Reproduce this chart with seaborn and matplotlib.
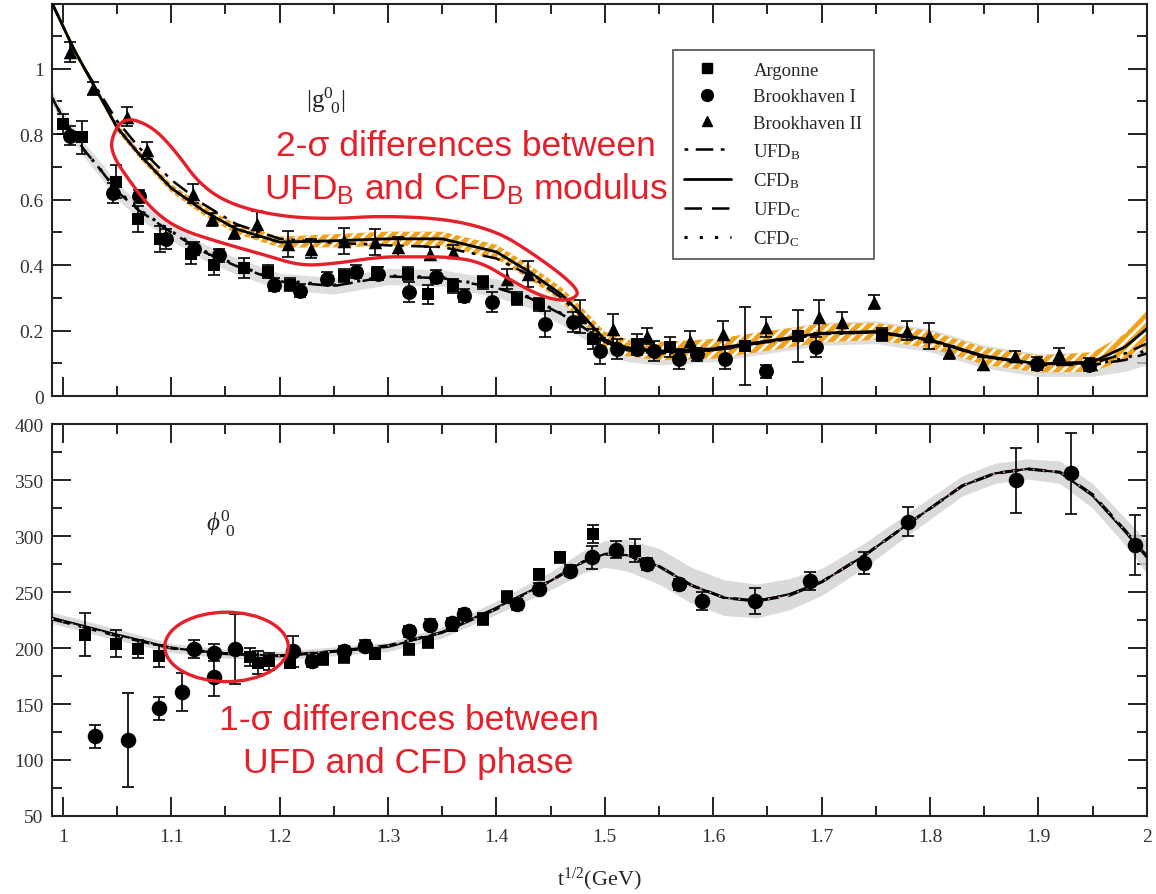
import matplotlib
matplotlib.use("Agg")
import numpy as np
import matplotlib.pyplot as plt
import seaborn as sns
from matplotlib.lines import Line2D
from matplotlib.patches import Ellipse, Polygon
from matplotlib.ticker import MultipleLocator, FuncFormatter

# ---------- top panel: modulus |g00| ----------
# curves
x_curve_top = [0.99, 1.0, 1.01, 1.02, 1.035, 1.05, 1.07, 1.1, 1.13, 1.16, 1.2, 1.25, 1.3, 1.35,
               1.4, 1.43, 1.46, 1.48, 1.5, 1.52, 1.55, 1.6, 1.65, 1.7, 1.75, 1.8, 1.85, 1.9,
               1.95, 1.98, 2.0]
cfd_b = [1.2, 1.13, 1.06, 1.0, 0.91, 0.82, 0.74, 0.635, 0.565, 0.51, 0.47, 0.474, 0.48, 0.48,
         0.44, 0.38, 0.31, 0.245, 0.172, 0.148, 0.137, 0.144, 0.168, 0.192, 0.197, 0.172, 0.122,
         0.098, 0.104, 0.15, 0.205]
ufd_b = [1.2, 1.13, 1.06, 1.0, 0.92, 0.84, 0.76, 0.66, 0.585, 0.525, 0.48, 0.468, 0.46, 0.455,
         0.42, 0.37, 0.30, 0.24, 0.17, 0.145, 0.135, 0.142, 0.165, 0.19, 0.195, 0.17, 0.12,
         0.097, 0.1, 0.13, 0.16]
ufd_c = [0.91, 0.85, 0.80, 0.75, 0.69, 0.625, 0.567, 0.50, 0.44, 0.397, 0.35, 0.336, 0.365, 0.36,
         0.33, 0.30, 0.25, 0.21, 0.165, 0.14, 0.13, 0.14, 0.165, 0.19, 0.195, 0.17, 0.12,
         0.095, 0.095, 0.11, 0.13]
cfd_c = [0.91, 0.85, 0.80, 0.75, 0.69, 0.628, 0.57, 0.503, 0.443, 0.40, 0.353, 0.338, 0.367, 0.362,
         0.332, 0.302, 0.252, 0.21, 0.165, 0.14, 0.13, 0.14, 0.165, 0.19, 0.195, 0.17, 0.12,
         0.095, 0.097, 0.115, 0.14]
band_b_half = [0.01, 0.01, 0.01, 0.01, 0.01, 0.012, 0.012, 0.013, 0.014, 0.015, 0.017, 0.02, 0.022,
               0.022, 0.022, 0.022, 0.022, 0.022, 0.024, 0.026, 0.028, 0.03, 0.03, 0.028, 0.026,
               0.026, 0.026, 0.026, 0.03, 0.04, 0.055]
band_c_half = [0.02, 0.02, 0.022, 0.022, 0.024, 0.025, 0.025, 0.025, 0.025, 0.025, 0.025, 0.025,
               0.025, 0.025, 0.028, 0.03, 0.032, 0.034, 0.035, 0.035, 0.035, 0.035, 0.035, 0.035,
               0.035, 0.035, 0.035, 0.035, 0.035, 0.035, 0.035]

# data points
arg_x = [1.0, 1.018, 1.049, 1.069, 1.09, 1.118, 1.139, 1.167, 1.189, 1.21, 1.259, 1.29, 1.318,
         1.337, 1.36, 1.388, 1.419, 1.439, 1.489, 1.53, 1.56, 1.629, 1.678, 1.756]
arg_y = [0.83, 0.79, 0.654, 0.54, 0.48, 0.434, 0.40, 0.39, 0.38, 0.34, 0.367, 0.373, 0.373, 0.31,
         0.336, 0.348, 0.297, 0.28, 0.174, 0.16, 0.15, 0.153, 0.184, 0.187]
arg_e = [0.03, 0.05, 0.05, 0.04, 0.04, 0.03, 0.03, 0.03, 0.02, 0.02, 0.02, 0.02, 0.02, 0.03,
         0.02, 0.02, 0.02, 0.02, 0.03, 0.03, 0.03, 0.12, 0.08, 0.02]

bk1_x = [1.007, 1.046, 1.07, 1.095, 1.121, 1.144, 1.195, 1.219, 1.244, 1.27, 1.291, 1.319, 1.344,
         1.37, 1.396, 1.445, 1.471, 1.496, 1.511, 1.53, 1.545, 1.568, 1.585, 1.611, 1.649, 1.695,
         1.899, 1.947]
bk1_y = [0.795, 0.62, 0.61, 0.48, 0.45, 0.43, 0.34, 0.322, 0.358, 0.38, 0.373, 0.318, 0.364,
         0.306, 0.287, 0.22, 0.226, 0.138, 0.144, 0.144, 0.138, 0.113, 0.128, 0.113, 0.076, 0.15,
         0.098, 0.095]
bk1_e = [0.03, 0.03, 0.02, 0.03, 0.02, 0.02, 0.02, 0.02, 0.02, 0.02, 0.02, 0.03, 0.02, 0.02,
         0.03, 0.04, 0.03, 0.04, 0.03, 0.02, 0.03, 0.03, 0.02, 0.03, 0.02, 0.03, 0.02, 0.02]

bk2_x = [1.007, 1.028, 1.059, 1.078, 1.12, 1.138, 1.158, 1.179, 1.208, 1.229, 1.259, 1.288, 1.309,
         1.339, 1.36, 1.41, 1.429, 1.477, 1.508, 1.539, 1.579, 1.609, 1.649, 1.698, 1.719, 1.748,
         1.779, 1.799, 1.818, 1.849, 1.878, 1.919, 1.949]
bk2_y = [1.05, 0.94, 0.853, 0.75, 0.618, 0.54, 0.50, 0.526, 0.465, 0.45, 0.474, 0.47, 0.455,
         0.434, 0.44, 0.358, 0.373, 0.242, 0.205, 0.184, 0.168, 0.19, 0.211, 0.242, 0.226, 0.287,
         0.20, 0.184, 0.134, 0.098, 0.122, 0.128, 0.098]
bk2_e = [0.03, 0.02, 0.03, 0.025, 0.03, 0.02, 0.02, 0.04, 0.04, 0.03, 0.04, 0.04, 0.03, 0.02,
         0.02, 0.03, 0.04, 0.05, 0.045, 0.025, 0.03, 0.04, 0.03, 0.05, 0.03, 0.02, 0.03, 0.04,
         0.02, 0.02, 0.015, 0.02, 0.015]

# ---------- bottom panel: phase phi00 ----------
x_curve_bot = [0.99, 1.05, 1.1, 1.15, 1.2, 1.25, 1.3, 1.35, 1.4, 1.45, 1.48, 1.5, 1.52, 1.55,
               1.58, 1.61, 1.64, 1.67, 1.7, 1.74, 1.78, 1.83, 1.86, 1.89, 1.92, 1.95, 1.98, 2.0]
phase_cfd = [227, 212, 200, 195, 193, 197, 201, 214, 236, 260, 277, 284, 283, 273,
             256, 245, 242, 248, 259, 283, 311, 345, 356, 360, 357, 336, 304, 281]
phase_ufd = [226, 211, 200, 195, 193, 197, 202, 214, 235, 260, 277, 284, 283, 273,
             256, 245, 242, 247, 259, 283, 311, 345, 356, 360, 357, 337, 305, 282]
phase_band_half = [5, 5, 4, 4, 4, 4, 4, 5, 6, 8, 10, 12, 14, 16,
                   16, 16, 15, 14, 12, 11, 10, 9, 9, 9, 10, 11, 12, 14]

ph_bk1_x = [1.03, 1.06, 1.089, 1.11, 1.121, 1.139, 1.139, 1.159, 1.212, 1.23, 1.259, 1.279,
            1.319, 1.339, 1.359, 1.37, 1.419, 1.439, 1.468, 1.488, 1.51, 1.539, 1.568, 1.59,
            1.639, 1.689, 1.739, 1.78, 1.879, 1.93, 1.989]
ph_bk1_y = [121, 118, 146, 161, 199, 174, 196, 199, 197, 188, 197, 202, 215, 221, 222, 230, 239,
            253, 269, 281, 288, 275, 257, 242, 242, 260, 276, 313, 350, 356, 292]
ph_bk1_e = [10, 42, 10, 17, 8, 17, 8, 31, 14, 5, 5, 5, 5, 5, 5, 5, 5, 5, 5, 10, 8, 5, 5, 8, 12,
            8, 10, 13, 29, 36, 27]

ph_arg_x = [1.02, 1.049, 1.069, 1.089, 1.173, 1.18, 1.19, 1.21, 1.24, 1.259, 1.288, 1.319, 1.337,
            1.359, 1.388, 1.41, 1.439, 1.459, 1.489, 1.528]
ph_arg_y = [212, 204, 199, 193, 192, 187, 188, 187, 190, 192, 195, 199, 205, 220, 226, 246, 266,
            281, 302, 287]
ph_arg_e = [19, 12, 8, 10, 8, 10, 8, 5, 5, 5, 5, 5, 5, 5, 5, 5, 5, 5, 8, 10]

# red annotation outline (annotation shape, not data)
blob_x = [1.0442, 1.0562, 1.0811, 1.1023, 1.1272, 1.1576, 1.2037, 1.2498, 1.2931, 1.3548, 1.4009,
          1.4313, 1.4618, 1.4765, 1.4710, 1.4590, 1.4406, 1.4157, 1.3853, 1.3548, 1.3235, 1.2931,
          1.2498, 1.2194, 1.1889, 1.1429, 1.1060, 1.0811, 1.0599, 1.0461]
blob_y = [0.786, 0.853, 0.826, 0.755, 0.642, 0.581, 0.547, 0.541, 0.550, 0.541, 0.502, 0.440,
          0.367, 0.318, 0.297, 0.291, 0.306, 0.349, 0.410, 0.425, 0.425, 0.425, 0.404, 0.398,
          0.428, 0.471, 0.511, 0.572, 0.664, 0.734]

RED = '#e5202a'
ORANGE = '#f0a21c'
GREY = '#d4d4d4'
SERIF = ['Liberation Serif', 'DejaVu Serif']
SANS = ['Liberation Sans', 'DejaVu Sans']


def smooth_outline(xs, ys, n=3):
    # corner cutting so the hand-drawn outline looks round
    pts = np.column_stack([xs, ys])
    for _ in range(n):
        nxt = np.roll(pts, -1, axis=0)
        q = 0.75 * pts + 0.25 * nxt
        r = 0.25 * pts + 0.75 * nxt
        pts = np.empty((2 * len(q), 2))
        pts[0::2] = q
        pts[1::2] = r
    return pts


sns.set_style("ticks")
plt.rcParams['font.family'] = SERIF
plt.rcParams['mathtext.fontset'] = 'custom'
plt.rcParams['mathtext.rm'] = 'Liberation Serif'
plt.rcParams['mathtext.it'] = 'Liberation Serif:italic'
plt.rcParams['mathtext.sf'] = 'Liberation Sans'
plt.rcParams['hatch.linewidth'] = 2.0
plt.rcParams['axes.edgecolor'] = '#222222'

fig = plt.figure(figsize=(11.56, 8.95), dpi=100)
ax1 = fig.add_axes([0.045, 0.5564, 0.947, 0.438])
ax2 = fig.add_axes([0.045, 0.0872, 0.947, 0.4378])

# --- top panel ---
xt = np.array(x_curve_top)
cb = np.array(cfd_b)
cc = np.array(ufd_c)
ax1.fill_between(xt, cc - np.array(band_c_half), cc + np.array(band_c_half),
                 color=GREY, alpha=0.75, linewidth=0, zorder=1)
ax1.fill_between(xt, cb - np.array(band_b_half), cb + np.array(band_b_half),
                 facecolor=ORANGE, edgecolor='white', hatch='///', linewidth=0, zorder=2)

sns.lineplot(x=x_curve_top, y=ufd_c, ax=ax1, color='black', lw=1.8, linestyle=(0, (7, 4)), zorder=3)
sns.lineplot(x=x_curve_top, y=cfd_c, ax=ax1, color='black', lw=2.2, linestyle=(0, (1, 3)), zorder=3)
sns.lineplot(x=x_curve_top, y=ufd_b, ax=ax1, color='black', lw=1.8, linestyle=(0, (7, 3, 1.5, 3)), zorder=3)
sns.lineplot(x=x_curve_top, y=cfd_b, ax=ax1, color='black', lw=2.0, zorder=4)

for xs, ys, es, mk, sz in [(arg_x, arg_y, arg_e, 's', 85),
                           (bk1_x, bk1_y, bk1_e, 'o', 115),
                           (bk2_x, bk2_y, bk2_e, '^', 95)]:
    ax1.errorbar(xs, ys, yerr=es, fmt='none', ecolor='black', elinewidth=1.2,
                 capsize=4, capthick=1.2, zorder=5)
    sns.scatterplot(x=xs, y=ys, ax=ax1, marker=mk, s=sz, color='black',
                    linewidth=0, legend=False, zorder=6)

ax1.add_patch(Polygon(smooth_outline(blob_x, blob_y), closed=True, fill=False,
                      edgecolor=RED, lw=2.4, joinstyle='round', zorder=8))
ax1.text(1.372, 0.765, '2-σ differences between', color=RED, fontsize=25.5,
         family=SANS, ha='center', va='center', zorder=9)
ax1.text(1.372, 0.633, r'UFD$_\mathsf{B}$ and CFD$_\mathsf{B}$ modulus', color=RED, fontsize=25.5,
         family=SANS, ha='center', va='center', zorder=9)
ax1.text(1.242, 0.905, r'$|\mathrm{g}^{0}_{\;\;0}|$', fontsize=18, ha='center', va='center')

handles = [
    Line2D([], [], color='black', marker='s', linestyle='none', markersize=7),
    Line2D([], [], color='black', marker='o', linestyle='none', markersize=8.5),
    Line2D([], [], color='black', marker='^', linestyle='none', markersize=7.5),
    Line2D([], [], color='black', lw=1.8, linestyle=(0, (1.5, 3, 7, 3))),
    Line2D([], [], color='black', lw=2.0),
    Line2D([], [], color='black', lw=1.8, linestyle=(0, (7, 4))),
    Line2D([], [], color='black', lw=2.2, linestyle=(0, (1, 4))),
]
labels = ['Argonne', 'Brookhaven I', 'Brookhaven II', r'UFD$_\mathrm{B}$', r'CFD$_\mathrm{B}$',
          r'UFD$_\mathrm{C}$', r'CFD$_\mathrm{C}$']
leg = ax1.legend(handles, labels, loc='upper left', bbox_to_anchor=(0.567, 0.882),
                 frameon=True, fancybox=False, fontsize=13.5, handlelength=2.5,
                 handletextpad=1.2, labelspacing=0.5, borderpad=0.6, borderaxespad=0)
leg.get_frame().set_edgecolor('#222222')
leg.get_frame().set_linewidth(1.2)

ax1.set_xlim(0.99, 2.0)
ax1.set_ylim(0, 1.197)
ax1.yaxis.set_major_locator(MultipleLocator(0.2))
ax1.yaxis.set_minor_locator(MultipleLocator(0.1))

# --- bottom panel ---
xb = np.array(x_curve_bot)
pb = np.array(phase_cfd)
hb = np.array(phase_band_half)
ax2.fill_between(xb, pb - hb, pb + hb, color=GREY, alpha=0.85, linewidth=0, zorder=1)
sns.lineplot(x=x_curve_bot, y=phase_cfd, ax=ax2, color='black', lw=1.6, zorder=3)
sns.lineplot(x=x_curve_bot, y=phase_ufd, ax=ax2, color='black', lw=2.2, linestyle=(0, (6, 3)), zorder=3)
sns.lineplot(x=x_curve_bot, y=phase_ufd, ax=ax2, color='#e7a3ad', lw=1.2, linestyle=(0, (1, 5)), zorder=4)

for xs, ys, es, mk, sz in [(ph_arg_x, ph_arg_y, ph_arg_e, 's', 85),
                           (ph_bk1_x, ph_bk1_y, ph_bk1_e, 'o', 125)]:
    ax2.errorbar(xs, ys, yerr=es, fmt='none', ecolor='black', elinewidth=1.2,
                 capsize=4, capthick=1.2, zorder=5)
    sns.scatterplot(x=xs, y=ys, ax=ax2, marker=mk, s=sz, color='black',
                    linewidth=0, legend=False, zorder=6)

ax2.add_patch(Ellipse((1.151, 201), width=0.114, height=62, fill=False,
                      edgecolor=RED, lw=2.4, zorder=8))
ax2.text(1.319, 136.5, '1-σ differences between', color=RED, fontsize=25.5,
         family=SANS, ha='center', va='center', zorder=9)
ax2.text(1.319, 98, 'UFD and CFD phase', color=RED, fontsize=25.5,
         family=SANS, ha='center', va='center', zorder=9)
ax2.text(1.146, 312, r'$\phi^{0}_{\;\;0}$', fontsize=18, ha='center', va='center')

ax2.set_xlim(0.99, 2.0)
ax2.set_ylim(50, 400)
ax2.yaxis.set_major_locator(MultipleLocator(50))
ax2.yaxis.set_minor_locator(MultipleLocator(25))
ax2.set_xlabel(r't$^{1/2}$(GeV)', fontsize=16, labelpad=14)

fmt = FuncFormatter(lambda v, p: f'{v:g}')
for ax in (ax1, ax2):
    ax.xaxis.set_major_locator(MultipleLocator(0.1))
    ax.xaxis.set_minor_locator(MultipleLocator(0.05))
    ax.xaxis.set_major_formatter(fmt)
    ax.yaxis.set_major_formatter(fmt)
    ax.tick_params(which='both', direction='in', top=True, right=True, width=1.4,
                   colors='#222222', labelsize=14, labelcolor='#333333',
                   labelfontfamily='Liberation Serif')
    ax.tick_params(which='major', length=14)
    ax.tick_params(which='minor', length=7)
    ax.tick_params(axis='x', pad=9)
    ax.tick_params(axis='y', pad=6)
    for sp in ax.spines.values():
        sp.set_linewidth(1.5)
    ax.set_ylabel('')
ax1.tick_params(labelbottom=False)
ax1.set_xlabel('')

fig.savefig('out.png', dpi=100)
